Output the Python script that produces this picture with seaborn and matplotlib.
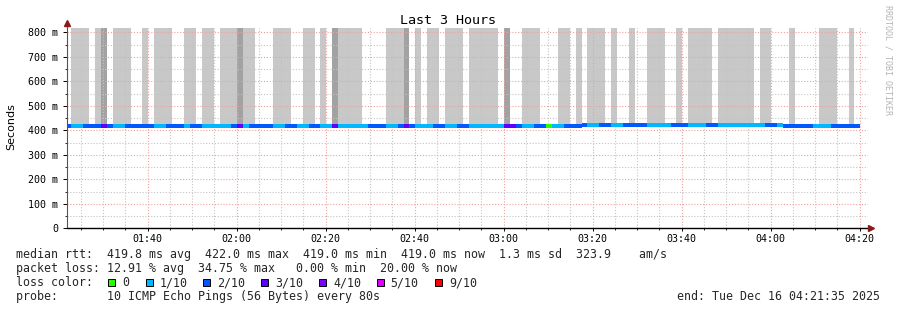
import numpy as np
import pandas as pd
import matplotlib
matplotlib.use("Agg")
import matplotlib.pyplot as plt
from matplotlib.patches import Rectangle
from matplotlib.ticker import MultipleLocator, FixedLocator, FuncFormatter
import seaborn as sns

# ---------------- data ----------------
step_minutes = 80 / 60              # one probe round every 80 s
first_step_min = 81.5               # start of first (partly hidden) step, minutes after 00:00
window_min = (81.88, 261.88)        # the 3 hour window shown

# lost pings (out of 10) per step, as (value, consecutive steps)
loss_runs = [
    (2, 1), (1, 2), (2, 3), (3, 1), (2, 1), (1, 2), (2, 5), (1, 2), (2, 3), (1, 1),
    (2, 2), (1, 5), (2, 1), (3, 1), (1, 1), (2, 4), (1, 2), (2, 2), (1, 2), (2, 2),
    (1, 2), (3, 1), (1, 5), (2, 3), (1, 2), (2, 1), (3, 1), (2, 1), (1, 3), (2, 2),
    (1, 2), (2, 2), (1, 6), (3, 2), (2, 1), (1, 2), (2, 2), (0, 1), (1, 2), (2, 4),
    (1, 2), (2, 2), (1, 2), (2, 4), (1, 4), (2, 3), (1, 3), (2, 2), (1, 8), (2, 2),
    (1, 1), (2, 5), (1, 3), (2, 5),
]
# median rtt in ms per step
median_runs = [(419, 87), (422, 34), (419, 13)]
# smoke per step: 'L' light smoke, 'D' dense smoke, '.' none
smoke_runs = [
    (".", 1), ("L", 3), (".", 1), ("L", 1), ("D", 1), (".", 1), ("L", 3), (".", 2),
    ("L", 1), (".", 1), ("L", 3), (".", 2), ("L", 2), (".", 1), ("L", 2), (".", 1),
    ("L", 3), ("D", 1), ("L", 2), (".", 3), ("L", 3), (".", 2), ("L", 2), (".", 1),
    ("L", 1), (".", 1), ("D", 1), ("L", 4), (".", 4), ("L", 3), ("D", 1), (".", 1),
    ("L", 1), (".", 1), ("L", 2), (".", 1), ("L", 3), (".", 1), ("L", 5), (".", 1),
    ("D", 1), (".", 2), ("L", 3), (".", 3), ("L", 2), (".", 1), ("L", 1), (".", 1),
    ("L", 3), (".", 1), ("L", 1), (".", 2), ("L", 1), (".", 2), ("L", 3), (".", 2),
    ("L", 1), (".", 1), ("L", 4), (".", 1), ("L", 6), (".", 1), ("L", 2), (".", 3),
    ("L", 1), (".", 4), ("L", 3), (".", 2), ("L", 1), (".", 1),
]
y_top_ms = 817.6
y_ticks_ms = [0, 100, 200, 300, 400, 500, 600, 700, 800]
x_ticks_min = [100, 120, 140, 160, 180, 200, 220, 240, 260]

loss_levels = [0, 1, 2, 3, 4, 5, 9]
loss_labels = ["0", "1/10", "2/10", "3/10", "4/10", "5/10", "9/10"]
loss_colors = ["#26ff00", "#00b8ff", "#0059ff", "#5e00ff", "#7e00ff", "#dd00ff", "#ff0000"]
smoke_colors = {"L": "#c8c8c8", "D": "#a2a2a2"}

title = "Last 3 Hours"
y_label = "Seconds"
line_rtt = "median rtt:  419.8 ms avg  422.0 ms max  419.0 ms min  419.0 ms now  1.3 ms sd  323.9    am/s"
line_loss = "packet loss: 12.91 % avg  34.75 % max   0.00 % min  20.00 % now"
line_color = "loss color:"
line_probe = "probe:       10 ICMP Echo Pings (56 Bytes) every 80s"
line_end = "end: Tue Dec 16 04:21:35 2025"
watermark = "RRDTOOL / TOBI OETIKER"

# ---------------- build per-step table ----------------
def expand(runs):
    return [v for v, n in runs for _ in range(n)]

loss = np.array(expand(loss_runs))
median = np.array(expand(median_runs), dtype=float)
smoke = expand(smoke_runs)
n = len(loss)
t0 = first_step_min + np.arange(n) * step_minutes
t1 = t0 + step_minutes
color_of = dict(zip(loss_levels, loss_colors))

steps = pd.DataFrame({"t0": t0, "t1": t1, "loss": loss, "median": median, "smoke": smoke})

# line segments: contiguous steps with same loss and median
chg = (steps["loss"].diff().fillna(0) != 0) | (steps["median"].diff().fillna(0) != 0)
steps["seg"] = ["s%d" % i for i in chg.cumsum()]
segs = steps.groupby("seg", sort=False).agg(t0=("t0", "min"), t1=("t1", "max"),
                                             rtt=("median", "first"), loss=("loss", "first")).reset_index()
line_df = pd.concat([
    segs[["seg", "t0", "rtt"]].rename(columns={"t0": "t"}),
    segs[["seg", "t1", "rtt"]].rename(columns={"t1": "t"}),
]).sort_values(["seg", "t"])
seg_palette = {s: color_of[l] for s, l in zip(segs["seg"], segs["loss"])}

# smoke blocks: contiguous steps with same smoke code and median
schg = (steps["smoke"] != steps["smoke"].shift()) | (steps["median"].diff().fillna(0) != 0)
steps["sblk"] = schg.cumsum()
sblocks = steps.groupby("sblk").agg(t0=("t0", "min"), t1=("t1", "max"),
                                     code=("smoke", "first"), base=("median", "first")).reset_index()

# ---------------- figure ----------------
sns.set_theme(style="white")
plt.rcParams["font.family"] = ["DejaVu Sans Mono", "DejaVu Sans"]

W, H = 897, 310
fig = plt.figure(figsize=(W / 100, H / 100), dpi=100)
fig.patch.set_facecolor("white")
ax_l, ax_r, ax_b, ax_t = 67, 868, 228.3, 28
ax = fig.add_axes([ax_l / W, 1 - ax_b / H, (ax_r - ax_l) / W, (ax_b - ax_t) / H])
ax.set_facecolor("white")

# smoke
for code in ("L", "D"):
    sel = sblocks[sblocks["code"] == code]
    ax.bar(sel["t0"], y_top_ms - sel["base"], bottom=sel["base"], width=sel["t1"] - sel["t0"],
           align="edge", color=smoke_colors[code], linewidth=0, zorder=0.5)

# median line coloured by loss
sns.lineplot(data=line_df, x="t", y="rtt", hue="seg", palette=seg_palette, estimator=None,
             sort=False, legend=False, linewidth=1.45, solid_capstyle="butt",
             antialiased=False, ax=ax, zorder=3)

ax.set_xlim(*window_min)
ax.set_ylim(0, y_top_ms)
ax.set_xlabel("")
ax.set_ylabel("")

ax.xaxis.set_major_locator(FixedLocator(x_ticks_min))
ax.xaxis.set_minor_locator(MultipleLocator(5))
ax.xaxis.set_major_formatter(FuncFormatter(lambda v, p: "%02d:%02d" % (int(v) // 60, int(v) % 60)))
ax.yaxis.set_major_locator(FixedLocator(y_ticks_ms))
ax.yaxis.set_minor_locator(MultipleLocator(50))
ax.yaxis.set_major_formatter(FuncFormatter(lambda v, p: "0" if v == 0 else "%d m" % v))

ax.set_axisbelow("line")
ax.grid(True, which="major", color="#f0a0a0", linestyle=(0, (1, 1.6)), linewidth=0.8)
ax.grid(True, which="minor", color="#c4c4c4", linestyle=(0, (1, 1.6)), linewidth=0.8)

ax.tick_params(axis="x", which="major", direction="out", length=2.5, width=0.7, pad=1.8,
               labelsize=7.2, colors="black", bottom=True)
ax.tick_params(axis="x", which="minor", direction="out", length=1.5, width=0.7, bottom=True)
ax.tick_params(axis="y", which="major", direction="out", length=3, width=0.7, pad=3.2,
               labelsize=7.2, colors="black", left=True)
ax.tick_params(axis="y", which="minor", direction="out", length=1.5, width=0.7, left=True)

for s in ("top", "right"):
    ax.spines[s].set_visible(False)
ax.spines["left"].set_color("#555555")
ax.spines["left"].set_linewidth(0.8)
ax.spines["bottom"].set_color("black")
ax.spines["bottom"].set_linewidth(1.0)

# axis extensions with arrows
ax_h = ax_b - ax_t
ax_w = ax_r - ax_l
ax.plot([0, 0], [1, (ax_b - 24) / ax_h], transform=ax.transAxes, color="#555555",
        lw=0.8, clip_on=False, zorder=4)
ax.plot([0], [(ax_b - 23.5) / ax_h], transform=ax.transAxes, marker="^", markersize=4,
        color="#8b1a1a", clip_on=False, zorder=5)
ax.plot([1, (ax_r + 1 - ax_l) / ax_w], [0, 0], transform=ax.transAxes, color="black",
        lw=1.0, clip_on=False, zorder=4)
ax.plot([(870.5 - ax_l) / ax_w], [0], transform=ax.transAxes, marker=">", markersize=4,
        color="#8b1a1a", clip_on=False, zorder=5)

# titles
fig.text(447.5 / W, 1 - 20 / H, title, ha="center", va="center", fontsize=9.6,
         family="DejaVu Sans Mono", color="black")
fig.text(11 / W, 1 - 127 / H, y_label, rotation=90, ha="center", va="center", fontsize=8,
         family="DejaVu Sans", color="black")
fig.text(887.5 / W, 1 - 60 / H, watermark, rotation=270, ha="center", va="center",
         fontsize=6, family="DejaVu Sans Mono", color="#b4b4b4")

# legend / stats text
lx = 16 / W
fs = 8.4
fig.text(lx, 1 - 258 / H, line_rtt, ha="left", va="baseline", fontsize=fs, family="DejaVu Sans Mono")
fig.text(lx, 1 - 272.3 / H, line_loss, ha="left", va="baseline", fontsize=fs, family="DejaVu Sans Mono")
fig.text(lx, 1 - 286.3 / H, line_color, ha="left", va="baseline", fontsize=fs, family="DejaVu Sans Mono")
fig.text(lx, 1 - 300 / H, line_probe, ha="left", va="baseline", fontsize=fs, family="DejaVu Sans Mono")
fig.text(880 / W, 1 - 300 / H, line_end, ha="right", va="baseline", fontsize=fs, family="DejaVu Sans Mono")

box_px = [108.3, 146.0, 203.3, 261.3, 319.3, 376.7, 435.0]
for bx, lab, col in zip(box_px, loss_labels, loss_colors):
    fig.patches.append(Rectangle((bx / W, 1 - 286 / H), 7 / W, 7.5 / H, transform=fig.transFigure,
                                 facecolor=col, edgecolor="black", linewidth=0.7))
    fig.text((bx + 14) / W, 1 - 286.3 / H, lab, ha="left", va="baseline", fontsize=fs,
             family="DejaVu Sans Mono")

fig.savefig("out.png", dpi=100, facecolor="white")
